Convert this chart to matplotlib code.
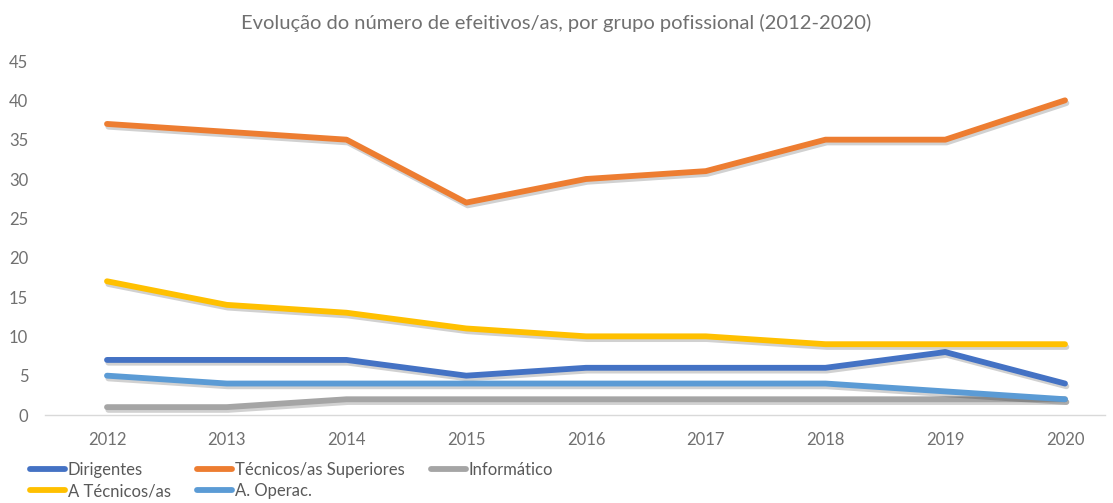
import numpy as np
import matplotlib.pyplot as plt
import matplotlib.patheffects as pe

plt.rcParams['font.family'] = ['Lato', 'DejaVu Sans']

anos = ['2012', '2013', '2014', '2015', '2016', '2017', '2018', '2019', '2020']
dirigentes = [7, 7, 7, 5, 6, 6, 6, 8, 4]
tecnicos_superiores = [37, 36, 35, 27, 30, 31, 35, 35, 40]
informatico = [1, 1, 2, 2, 2, 2, 2, 2, 2]
a_tecnicos = [17, 14, 13, 11, 10, 10, 9, 9, 9]
a_operac = [5, 4, 4, 4, 4, 4, 4, 3, 2]

series = [
    ('Dirigentes', dirigentes, '#4472C4'),
    ('Técnicos/as Superiores', tecnicos_superiores, '#ED7D31'),
    ('Informático', informatico, '#A5A5A5'),
    ('A Técnicos/as', a_tecnicos, '#FFC000'),
    ('A. Operac.', a_operac, '#5B9BD5'),
]

fig = plt.figure(figsize=(11.13, 5.03), dpi=100)
ax = fig.add_axes([45 / 1113, 88 / 503, 1060 / 1113, 354 / 503])

x = np.arange(len(anos))
linhas = {}
for nome, valores, cor in series:
    ln, = ax.plot(x, valores, color=cor, lw=4.2, solid_capstyle='round', label=nome,
                  path_effects=[pe.SimpleLineShadow(offset=(1, -2), shadow_color='black', alpha=0.18),
                                pe.Normal()])
    linhas[nome] = ln

ax.set_xlim(-62 / 119.75, 8 + 40 / 119.75)
ax.set_ylim(0, 45)
ax.set_yticks(range(0, 46, 5))
ax.set_xticks(x)
ax.set_xticklabels(anos)
ax.tick_params(axis='both', length=0, labelsize=12, colors='#707070')
ax.tick_params(axis='y', pad=12)
ax.tick_params(axis='x', pad=12)
for s in ['top', 'right', 'left']:
    ax.spines[s].set_visible(False)
ax.spines['bottom'].set_color('#D9D9D9')
ax.spines['bottom'].set_linewidth(1)

fig.suptitle('Evolução do número de efeitivos/as, por grupo pofissional (2012-2020)',
             x=0.5, y=0.972, fontsize=14.5, color='#707070')

# ordem por colunas para ficar igual ao Excel (3 colunas, 2 linhas)
ordem = ['Dirigentes', 'A Técnicos/as', 'Técnicos/as Superiores', 'A. Operac.', 'Informático']
leg = fig.legend([linhas[n] for n in ordem], ordem, ncol=3, loc='lower left',
                 bbox_to_anchor=(15 / 1113, -0.022), frameon=False, fontsize=12,
                 handlelength=2.1, handletextpad=0.15, columnspacing=1.6,
                 labelspacing=0.3, labelcolor='#595959')
for h in leg.legend_handles:
    h.set_path_effects([])

fig.savefig('out.png', dpi=100)
